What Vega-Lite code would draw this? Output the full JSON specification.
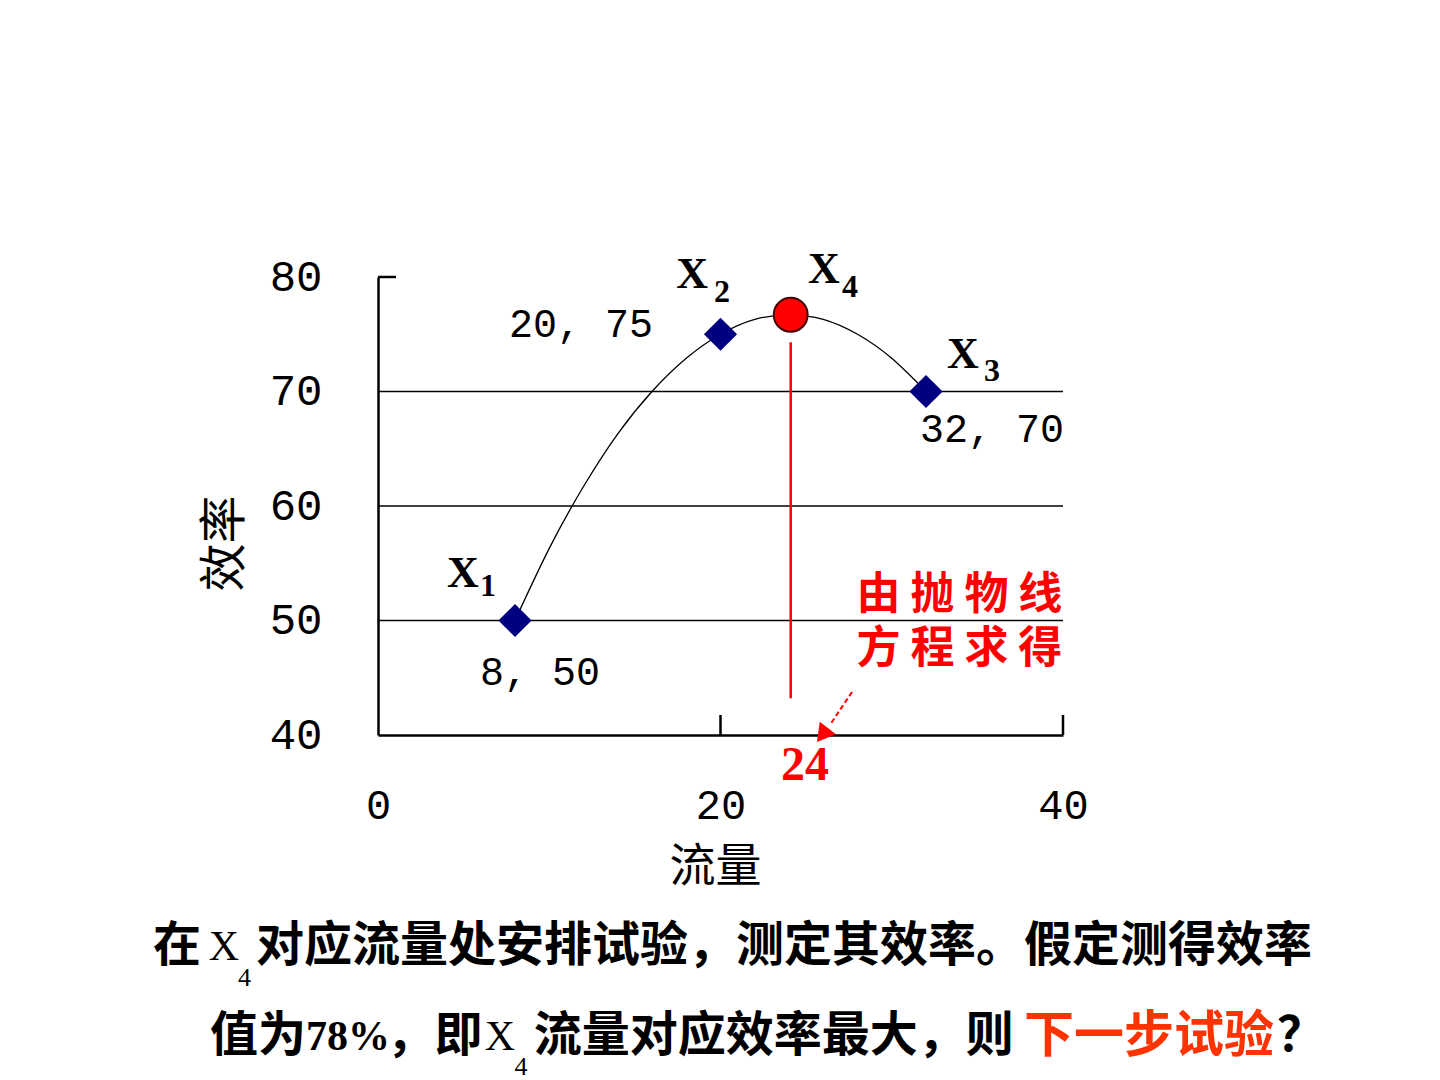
{
  "$schema": "https://vega.github.io/schema/vega-lite/v6.json",
  "width": 685,
  "height": 458,
  "autosize": {"type": "none"},
  "padding": {"left": 378, "top": 277, "right": 377, "bottom": 345},
  "background": "white",
  "config": {"view": {"stroke": null}},
  "data": {
    "values": [
      {"kind": "grid", "x": 0, "x2": 40, "y": 50},
      {"kind": "grid", "x": 0, "x2": 40, "y": 60},
      {"kind": "grid", "x": 0, "x2": 40, "y": 70},
      {"kind": "ytick", "x": 0, "x2": 1.05, "y": 80},
      {"kind": "xtick", "x": 20, "y": 40, "y2": 41.75},
      {"kind": "xtick", "x": 40, "y": 40, "y2": 41.75},
      {"kind": "curve", "x": 8, "y": 50},
      {"kind": "curve", "x": 10, "y": 56.3},
      {"kind": "curve", "x": 12, "y": 61.7},
      {"kind": "curve", "x": 14, "y": 66.3},
      {"kind": "curve", "x": 16, "y": 70},
      {"kind": "curve", "x": 18, "y": 72.9},
      {"kind": "curve", "x": 20, "y": 75},
      {"kind": "curve", "x": 22, "y": 76.3},
      {"kind": "curve", "x": 24, "y": 76.7},
      {"kind": "curve", "x": 26, "y": 76.3},
      {"kind": "curve", "x": 28, "y": 75},
      {"kind": "curve", "x": 30, "y": 72.9},
      {"kind": "curve", "x": 32, "y": 70},
      {"kind": "guide", "x": 24.1, "y": 74.3, "y2": 43.2},
      {"kind": "point", "x": 8, "y": 50},
      {"kind": "point", "x": 20, "y": 75},
      {"kind": "point", "x": 32, "y": 70},
      {"kind": "optimum", "x": 24.1, "y": 76.7},
      {"kind": "arrow", "x": 27.68, "y": 43.76, "x2": 26.4, "y2": 40.9},
      {"kind": "arrowhead", "x": 25.95, "y": 40.0},
      {"kind": "name", "x": 4.96, "y": 54.06, "text": "X"},
      {"kind": "name", "x": 18.34, "y": 80.17, "text": "X"},
      {"kind": "name", "x": 26.04, "y": 80.6, "text": "X"},
      {"kind": "name", "x": 34.16, "y": 73.19, "text": "X"},
      {"kind": "sub", "x": 6.42, "y": 53.0, "text": "1"},
      {"kind": "sub", "x": 20.09, "y": 78.7, "text": "2"},
      {"kind": "sub", "x": 27.56, "y": 79.1, "text": "4"},
      {"kind": "sub", "x": 35.85, "y": 71.79, "text": "3"},
      {"kind": "coord", "x": 11.85, "y": 75.81, "text": "20, 75"},
      {"kind": "coord", "x": 9.46, "y": 45.41, "text": "8,  50"},
      {"kind": "coord", "x": 35.85, "y": 66.64, "text": "32, 70"},
      {"kind": "note", "x": 33.95, "y": 52.14, "text": ["由  抛  物  线", "方  程  求  得"]},
      {"kind": "answer", "x": 24.93, "y": 37.29, "text": "24"},
      {"kind": "cap", "x": -13.14, "y": 21.48, "text": "在"},
      {"kind": "capX", "x": -8.99, "y": 21.48, "text": "X"},
      {"kind": "capSub", "x": -7.8, "y": 18.8, "text": "4"},
      {"kind": "cap", "x": -7.12, "y": 21.48, "text": "对应流量处安排试验，测定其效率。假定测得效率"},
      {"kind": "cap", "x": -9.81, "y": 13.62, "text": "值为"},
      {"kind": "capNum", "x": -1.75, "y": 13.62, "text": "78%"},
      {"kind": "cap", "x": 0.5, "y": 13.62, "text": "，即"},
      {"kind": "capX", "x": 7.12, "y": 13.62, "text": "X"},
      {"kind": "capSub", "x": 8.35, "y": 11.0, "text": "4"},
      {"kind": "cap", "x": 9.1, "y": 13.62, "text": "流量对应效率最大，则"},
      {"kind": "capRed", "x": 37.72, "y": 13.62, "text": "下一步试验"},
      {"kind": "cap", "x": 52.5, "y": 13.62, "text": "？"}
    ]
  },
  "encoding": {
    "x": {
      "field": "x",
      "type": "quantitative",
      "scale": {"domain": [0, 40], "nice": false, "zero": false},
      "axis": {
        "values": [0, 20, 40],
        "ticks": false,
        "grid": false,
        "domainColor": "black",
        "domainWidth": 2.5,
        "labelFont": "Liberation Mono",
        "labelFontSize": 42,
        "labelColor": "black",
        "labelPadding": 50,
        "labelFlush": false,
        "labelOverlap": false,
        "title": "流量",
        "titleFont": "Noto Sans CJK SC",
        "titleFontSize": 46,
        "titleFontWeight": "normal",
        "titleColor": "black",
        "titleX": 337,
        "titleY": 131,
        "titleAlign": "center",
        "titleBaseline": "middle"
      }
    },
    "y": {
      "field": "y",
      "type": "quantitative",
      "scale": {"domain": [40, 80], "nice": false, "zero": false},
      "axis": {
        "values": [40, 50, 60, 70, 80],
        "ticks": false,
        "grid": false,
        "domainColor": "black",
        "domainWidth": 2.5,
        "labelFont": "Liberation Mono",
        "labelFontSize": 44,
        "labelColor": "black",
        "labelPadding": 56,
        "labelFlush": false,
        "labelOverlap": false,
        "title": "效率",
        "titleFont": "Noto Sans CJK SC",
        "titleFontSize": 48,
        "titleFontWeight": "normal",
        "titleColor": "black",
        "titleAngle": 270,
        "titleX": -153,
        "titleY": 266,
        "titleAlign": "center",
        "titleBaseline": "middle"
      }
    }
  },
  "layer": [
    {
      "transform": [{"filter": "datum.kind === 'grid'"}],
      "mark": {"type": "rule", "color": "black", "strokeWidth": 1.6},
      "encoding": {"x2": {"field": "x2"}}
    },
    {
      "transform": [{"filter": "datum.kind === 'ytick'"}],
      "mark": {"type": "rule", "color": "black", "strokeWidth": 2.5},
      "encoding": {"x2": {"field": "x2"}}
    },
    {
      "transform": [{"filter": "datum.kind === 'xtick'"}],
      "mark": {"type": "rule", "color": "black", "strokeWidth": 2.5},
      "encoding": {"y2": {"field": "y2"}}
    },
    {
      "transform": [{"filter": "datum.kind === 'curve'"}],
      "mark": {"type": "line", "color": "black", "strokeWidth": 1.3, "interpolate": "natural"},
      "encoding": {}
    },
    {
      "transform": [{"filter": "datum.kind === 'guide'"}],
      "mark": {"type": "rule", "color": "#ff0000", "strokeWidth": 2.5},
      "encoding": {"y2": {"field": "y2"}}
    },
    {
      "transform": [{"filter": "datum.kind === 'point'"}],
      "mark": {"type": "point", "shape": "diamond", "filled": true, "color": "#000080", "opacity": 1, "size": 1100},
      "encoding": {}
    },
    {
      "transform": [{"filter": "datum.kind === 'optimum'"}],
      "mark": {"type": "point", "shape": "circle", "filled": true, "fill": "#ff0000", "stroke": "#400000", "strokeWidth": 2, "opacity": 1, "size": 1150},
      "encoding": {}
    },
    {
      "transform": [{"filter": "datum.kind === 'arrow'"}],
      "mark": {"type": "rule", "color": "#ff0000", "strokeWidth": 2, "strokeDash": [5, 3]},
      "encoding": {"x2": {"field": "x2"}, "y2": {"field": "y2"}}
    },
    {
      "transform": [{"filter": "datum.kind === 'arrowhead'"}],
      "mark": {"type": "point", "shape": "triangle-up", "filled": true, "color": "#ff0000", "opacity": 1, "size": 420, "angle": 218},
      "encoding": {}
    },
    {
      "transform": [{"filter": "datum.kind === 'name'"}],
      "mark": {"type": "text", "font": "Liberation Serif", "fontWeight": "bold", "fontSize": 44, "color": "black", "align": "center", "baseline": "middle"},
      "encoding": {"text": {"field": "text"}}
    },
    {
      "transform": [{"filter": "datum.kind === 'sub'"}],
      "mark": {"type": "text", "font": "Liberation Serif", "fontWeight": "bold", "fontSize": 32, "color": "black", "align": "center", "baseline": "middle"},
      "encoding": {"text": {"field": "text"}}
    },
    {
      "transform": [{"filter": "datum.kind === 'coord'"}],
      "mark": {"type": "text", "font": "Liberation Mono", "fontSize": 40, "color": "black", "align": "center", "baseline": "middle"},
      "encoding": {"text": {"field": "text"}}
    },
    {
      "transform": [{"filter": "datum.kind === 'note'"}],
      "mark": {"type": "text", "font": "Noto Sans CJK SC", "fontWeight": "bold", "fontSize": 44, "lineHeight": 54, "color": "#ff0000", "align": "center", "baseline": "middle"},
      "encoding": {"text": {"field": "text"}}
    },
    {
      "transform": [{"filter": "datum.kind === 'answer'"}],
      "mark": {"type": "text", "font": "Liberation Serif", "fontWeight": "bold", "fontSize": 48, "color": "#ff0000", "align": "center", "baseline": "middle"},
      "encoding": {"text": {"field": "text"}}
    },
    {
      "transform": [{"filter": "datum.kind === 'cap'"}],
      "mark": {"type": "text", "font": "Noto Sans CJK SC", "fontWeight": "bold", "fontSize": 48, "color": "black", "align": "left", "baseline": "middle"},
      "encoding": {"text": {"field": "text"}}
    },
    {
      "transform": [{"filter": "datum.kind === 'capRed'"}],
      "mark": {"type": "text", "font": "Noto Sans CJK SC", "fontWeight": "bold", "fontSize": 50, "color": "#ff3300", "align": "left", "baseline": "middle"},
      "encoding": {"text": {"field": "text"}}
    },
    {
      "transform": [{"filter": "datum.kind === 'capX'"}],
      "mark": {"type": "text", "font": "Liberation Serif", "fontSize": 42, "color": "black", "align": "center", "baseline": "middle"},
      "encoding": {"text": {"field": "text"}}
    },
    {
      "transform": [{"filter": "datum.kind === 'capSub'"}],
      "mark": {"type": "text", "font": "Liberation Serif", "fontSize": 26, "color": "black", "align": "center", "baseline": "middle"},
      "encoding": {"text": {"field": "text"}}
    },
    {
      "transform": [{"filter": "datum.kind === 'capNum'"}],
      "mark": {"type": "text", "font": "Liberation Serif", "fontWeight": "bold", "fontSize": 42, "color": "black", "align": "center", "baseline": "middle"},
      "encoding": {"text": {"field": "text"}}
    }
  ]
}
